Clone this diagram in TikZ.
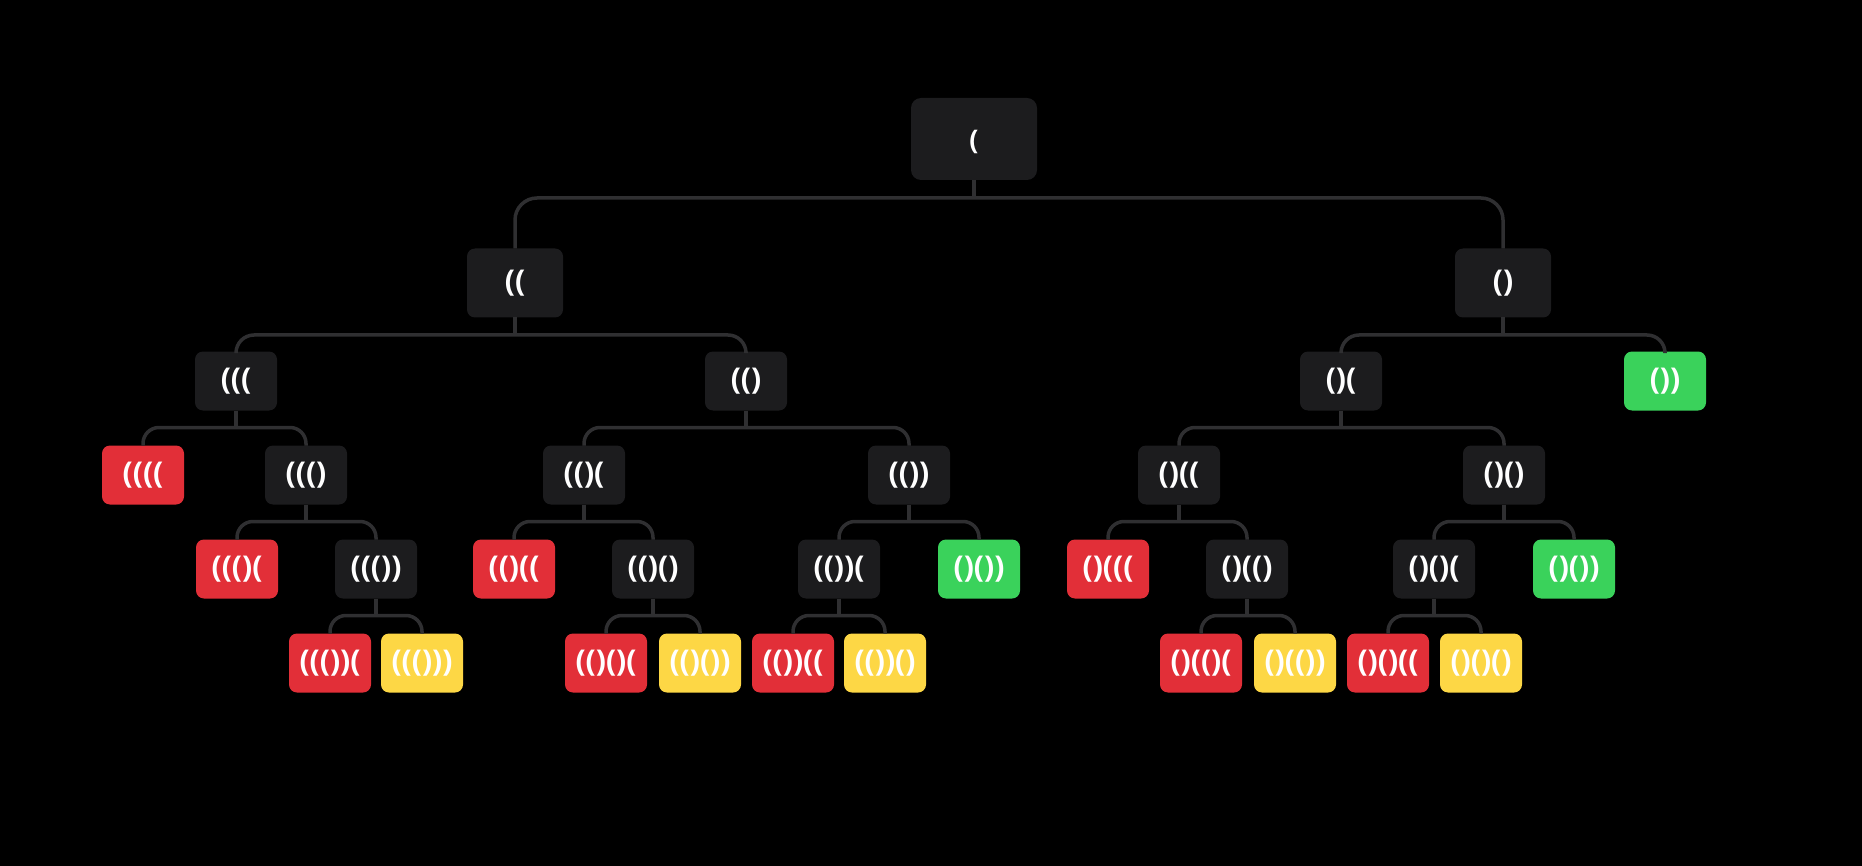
\documentclass[tikz,border=0pt]{standalone}
\usepackage{fontspec}
\setmainfont{Open Sans}
\usetikzlibrary{calc}
\definecolor{nodedark}{HTML}{1C1C1E}
\definecolor{nodered}{HTML}{E22F38}
\definecolor{nodeyellow}{HTML}{FDD745}
\definecolor{nodegreen}{HTML}{3AD25B}
\definecolor{linkgray}{HTML}{2F2F31}
\newcommand\tbranch[5]{%
  \coordinate (#1-bar) at ($(#1.south)+(0,#4)$);
  \draw[link] (#1.south) -- (#1-bar);
  \draw[link, rounded corners=#5] (#2.north) |- (#1-bar) -| (#3.north);
}
\begin{document}
\begin{tikzpicture}[x=1pt,y=-1pt,
  box/.style={rounded corners=8pt, minimum width=82pt, minimum height=59pt, inner sep=0pt, outer sep=0pt, text=white, font=\fontsize{30}{36}\selectfont\bfseries},
  dark/.style={box, fill=nodedark},
  bad/.style={box, fill=nodered},
  done/.style={box, fill=nodeyellow},
  prune/.style={box, fill=nodegreen},
  big/.style={minimum width=96pt, minimum height=69pt},
  topbox/.style={minimum width=126pt, minimum height=82pt, rounded corners=10pt, font=\fontsize{27}{32}\selectfont\bfseries},
  link/.style={draw=linkgray, line width=3.5pt},
]
\fill[black] (0,0) rectangle (1862,866);
\useasboundingbox (0,0) rectangle (1862,866);

% level 0
\node[dark, topbox] (r) at (974,139) {\raisebox{-3pt}[\height][\depth]{(}};
% level 1
\node[dark, big] (a) at (515,283) {((};
\node[dark, big] (b) at (1503,283) {()};
% level 2
\node[dark] (aa) at (236,381) {(((};
\node[dark] (ab) at (746,381) {(()};
\node[dark] (ba) at (1341,381) {()(};
\node[prune] (bb) at (1665,381) {())};
% level 3
\node[bad] (aaa) at (143,475) {((((};
\node[dark] (aab) at (306,475) {((()};
\node[dark] (aba) at (584,475) {(()(};
\node[dark] (abb) at (909,475) {(())};
\node[dark] (baa) at (1179,475) {()((};
\node[dark] (bab) at (1504,475) {()()};
% level 4
\node[bad] (aaba) at (237,569) {((()(};
\node[dark] (aabb) at (376,569) {((())};
\node[bad] (abaa) at (514,569) {(()((};
\node[dark] (abab) at (653,569) {(()()};
\node[dark] (abba) at (839,569) {(())(};
\node[prune] (abbb) at (979,569) {()())};
\node[bad] (baaa) at (1108,569) {()(((};
\node[dark] (baab) at (1247,569) {()(()};
\node[dark] (baba) at (1434,569) {()()(};
\node[prune] (babb) at (1574,569) {()())};
% level 5
\node[bad] (aabba) at (330,663) {((())(};
\node[done] (aabbb) at (422,663) {((()))};
\node[bad] (ababa) at (606,663) {(()()(};
\node[done] (ababb) at (700,663) {(()())};
\node[bad] (abbaa) at (793,663) {(())((};
\node[done] (abbab) at (885,663) {(())()};
\node[bad] (baaba) at (1201,663) {()(()(};
\node[done] (baabb) at (1295,663) {()(())};
\node[bad] (babaa) at (1388,663) {()()((};
\node[done] (babab) at (1481,663) {()()()};

% connectors
\tbranch{r}{a}{b}{18}{22pt}
\tbranch{a}{aa}{ab}{17.5}{18pt}
\tbranch{b}{ba}{bb}{17.5}{18pt}
\tbranch{aa}{aaa}{aab}{17}{16pt}
\tbranch{ab}{aba}{abb}{17}{16pt}
\tbranch{ba}{baa}{bab}{17}{16pt}
\tbranch{aab}{aaba}{aabb}{17}{16pt}
\tbranch{aba}{abaa}{abab}{17}{16pt}
\tbranch{abb}{abba}{abbb}{17}{16pt}
\tbranch{baa}{baaa}{baab}{17}{16pt}
\tbranch{bab}{baba}{babb}{17}{16pt}
\tbranch{aabb}{aabba}{aabbb}{17}{16pt}
\tbranch{abab}{ababa}{ababb}{17}{16pt}
\tbranch{abba}{abbaa}{abbab}{17}{16pt}
\tbranch{baab}{baaba}{baabb}{17}{16pt}
\tbranch{baba}{babaa}{babab}{17}{16pt}
\end{tikzpicture}
\end{document}
